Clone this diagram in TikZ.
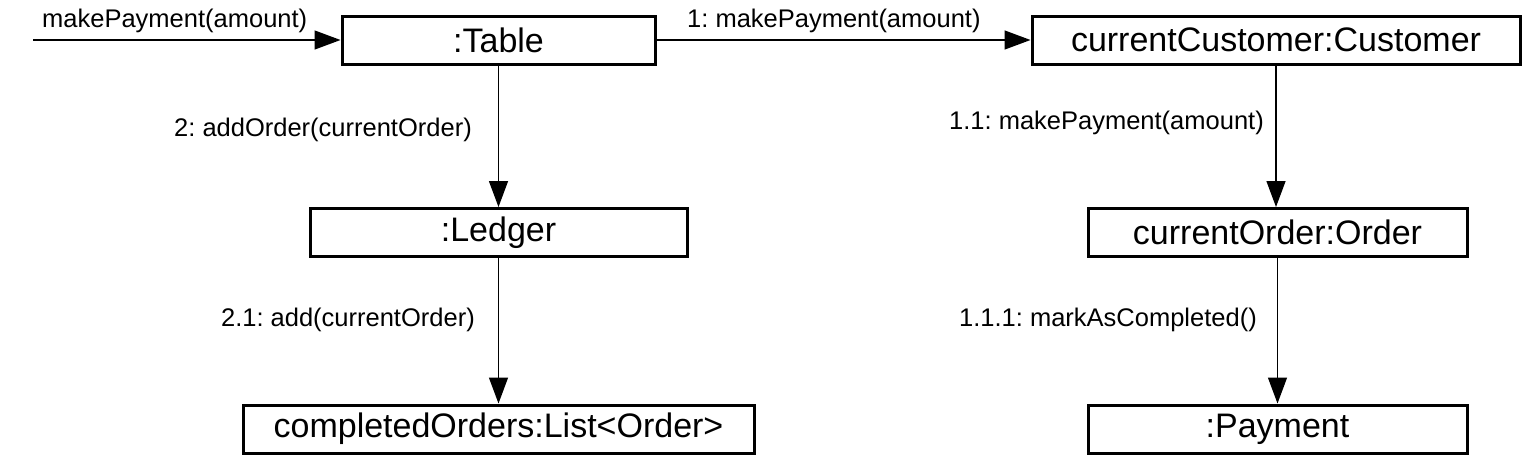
\documentclass[tikz,border=0pt]{standalone}
\usepackage{fontspec}
\setmainfont{Liberation Sans}
\usetikzlibrary{arrows.meta}
\frenchspacing
\begin{document}
\begin{tikzpicture}[x=1pt,y=-1pt,
  obj/.style={draw=black, line width=3pt, fill=white, inner sep=0pt, minimum height=48pt, font=\fontsize{34}{40}\selectfont},
  msg/.style={-{Triangle[length=26pt,width=19pt]}, line width=1.4pt},
  lbl/.style={inner sep=0pt, font=\fontsize{25.5}{30}\selectfont}]
\useasboundingbox[fill=white] (0,0) rectangle (1526,456);
\node[obj, minimum width=313pt] (table) at (498.5,40) {:Table};
\node[obj, minimum width=488pt] (cust) at (1276,40) {currentCustomer:Customer};
\node[obj, minimum width=377pt] (ledger) at (498.5,232.5) {:Ledger};
\node[obj, minimum width=379pt] (order) at (1277.5,232.5) {currentOrder:Order};
\node[obj, minimum width=511pt] (list) at (498.5,429) {completedOrders:List<Order>};
\node[obj, minimum width=379pt] (pay) at (1277.5,429) {:Payment};
\coordinate (start) at (33,40);
\draw[msg] (start) -- (table.west);
\draw[msg] (table.east) -- (cust.west);
\draw[msg] (table.south) -- (ledger.north);
\draw[msg] (ledger.south) -- (list.north);
\draw[msg] (cust.south) -- (cust.south |- order.north);
\draw[msg] (order.south) -- (pay.north);
\node[lbl, anchor=west] (l0) at (42,21) {makePayment(amount)};
\node[lbl, anchor=west] (l1) at (687,21) {1: makePayment(amount)};
\node[lbl, anchor=east] (l2) at (472,130) {2: addOrder(currentOrder)};
\node[lbl, anchor=east] (l21) at (475,320) {2.1: add(currentOrder)};
\node[lbl, anchor=east] (l11) at (1264,123) {1.1: makePayment(amount)};
\node[lbl, anchor=east] (l111) at (1257,320) {1.1.1: markAsCompleted()};
\end{tikzpicture}
\end{document}
